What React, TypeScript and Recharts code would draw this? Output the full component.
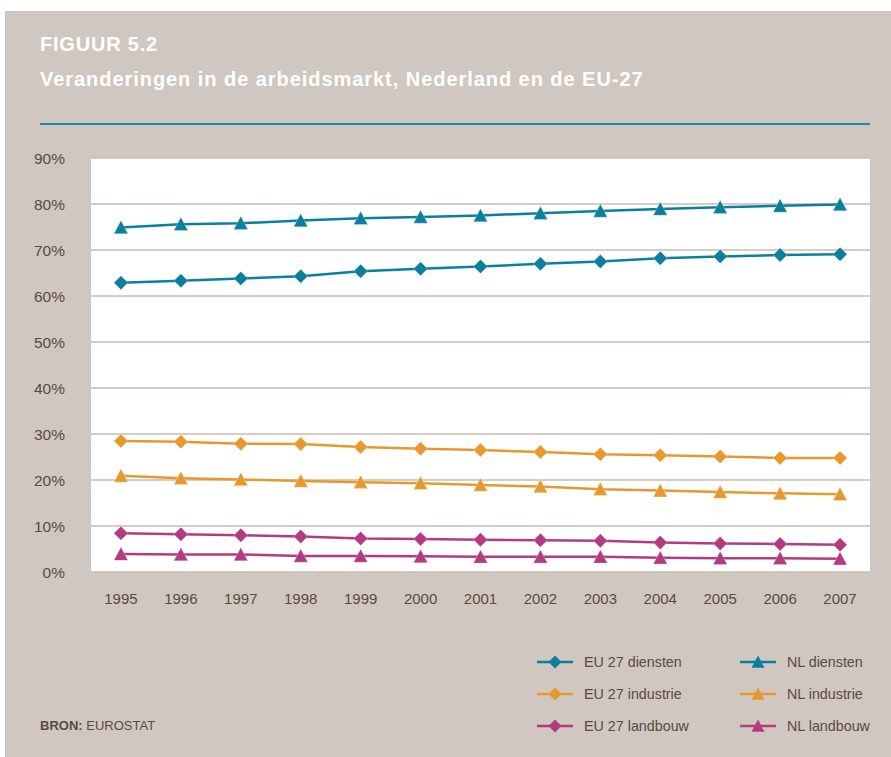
import React from 'react';
import { LineChart, Line, XAxis, YAxis, CartesianGrid } from 'recharts';

const years = [1995, 1996, 1997, 1998, 1999, 2000, 2001, 2002, 2003, 2004, 2005, 2006, 2007];
const euDiensten = [62.9, 63.3, 63.8, 64.3, 65.4, 65.9, 66.4, 67.0, 67.5, 68.2, 68.6, 68.9, 69.1];
const nlDiensten = [74.9, 75.6, 75.8, 76.4, 76.9, 77.2, 77.5, 78.0, 78.5, 78.9, 79.3, 79.6, 79.9];
const euIndustrie = [28.5, 28.3, 27.9, 27.8, 27.2, 26.8, 26.5, 26.1, 25.6, 25.4, 25.1, 24.8, 24.8];
const nlIndustrie = [20.9, 20.4, 20.1, 19.8, 19.5, 19.3, 18.9, 18.6, 18.0, 17.7, 17.4, 17.1, 16.9];
const euLandbouw = [8.4, 8.2, 8.0, 7.7, 7.3, 7.2, 7.0, 6.9, 6.8, 6.4, 6.2, 6.1, 5.9];
const nlLandbouw = [3.9, 3.8, 3.8, 3.5, 3.5, 3.4, 3.3, 3.3, 3.3, 3.1, 3.0, 3.0, 2.9];
const yTicks = [0, 10, 20, 30, 40, 50, 60, 70, 80, 90];

const TEAL = '#0B7F9E';
const ORANGE = '#E6992F';
const MAGENTA = '#B23B82';
const BG = '#CFC7C0';
const TEXT = '#5C4B3B';
const FONT = "'Liberation Sans', Arial, sans-serif";

const series = [
  { key: 'euDiensten', name: 'EU 27 diensten', color: TEAL, shape: 'diamond', values: euDiensten },
  { key: 'nlDiensten', name: 'NL diensten', color: TEAL, shape: 'triangle', values: nlDiensten },
  { key: 'euIndustrie', name: 'EU 27 industrie', color: ORANGE, shape: 'diamond', values: euIndustrie },
  { key: 'nlIndustrie', name: 'NL industrie', color: ORANGE, shape: 'triangle', values: nlIndustrie },
  { key: 'euLandbouw', name: 'EU 27 landbouw', color: MAGENTA, shape: 'diamond', values: euLandbouw },
  { key: 'nlLandbouw', name: 'NL landbouw', color: MAGENTA, shape: 'triangle', values: nlLandbouw },
];

const data = years.map((year, i) => {
  const row: any = { year };
  series.forEach((s) => {
    row[s.key] = s.values[i];
  });
  return row;
});

const markerPoints = (shape: string, cx: number, cy: number, r: number) => {
  if (shape === 'diamond') {
    return `${cx},${cy - r} ${cx + r},${cy} ${cx},${cy + r} ${cx - r},${cy}`;
  }
  return `${cx},${cy - r} ${cx + r},${cy + r * 0.9} ${cx - r},${cy + r * 0.9}`;
};

const makeDot = (shape: string, color: string) => (props: any) => {
  const { cx, cy, index } = props;
  if (cx == null || cy == null) return <g key={index} />;
  return (
    <polygon
      key={index}
      points={markerPoints(shape, cx, cy, 7)}
      fill={color}
      stroke="#fff"
      strokeOpacity={0.5}
      strokeWidth={0.5}
    />
  );
};

const LegendItem = ({ name, color, shape }: any) => (
  <div style={{ display: 'flex', alignItems: 'center', height: 20 }}>
    <svg width={36} height={16} style={{ marginRight: 11 }}>
      <line x1={0} y1={8} x2={36} y2={8} stroke={color} strokeWidth={2.5} />
      <polygon points={markerPoints(shape, 18, 8, 6.5)} fill={color} />
    </svg>
    <span style={{ fontSize: 14.3, color: TEXT }}>{name}</span>
  </div>
);

const App: React.FC = () => {
  return (
    <div style={{ position: 'absolute', left: 0, top: 0, width: 891, height: 757, background: '#fff', fontFamily: FONT }}>
      <div style={{ position: 'absolute', left: 5, top: 11, width: 886, height: 746, background: BG }} />

      <div style={{ position: 'absolute', left: 40, top: 33, color: '#fff', fontWeight: 'bold', fontSize: 20, letterSpacing: 0.8 }}>
        FIGUUR 5.2
      </div>
      <div style={{ position: 'absolute', left: 40, top: 68, color: '#fff', fontWeight: 'bold', fontSize: 20, letterSpacing: 0.95 }}>
        Veranderingen in de arbeidsmarkt, Nederland en de EU-27
      </div>
      <div style={{ position: 'absolute', left: 40, top: 123, width: 830, height: 1.5, background: '#1C8AA8' }} />

      <div style={{ position: 'absolute', left: 0, top: 0 }}>
        <LineChart width={891} height={620} data={data} margin={{ top: 158, right: 21, left: 0, bottom: 0 }}>
          <CartesianGrid vertical={false} stroke="#C9BDB2" strokeWidth={1.5} fill="#fff" />
          <XAxis
            dataKey="year"
            type="number"
            domain={[1994.5, 2007.5]}
            ticks={years}
            axisLine={false}
            tickLine={false}
            tickSize={0}
            tickMargin={21}
            height={48}
            tick={{ fill: TEXT, fontSize: 15, fontFamily: FONT }}
          />
          <YAxis
            domain={[0, 90]}
            ticks={yTicks}
            width={91}
            axisLine={false}
            tickLine={false}
            tickSize={0}
            tickMargin={26}
            tickFormatter={(v: number) => `${v}%`}
            tick={{ fill: TEXT, fontSize: 15.5, fontFamily: FONT }}
          />
          {series.map((s) => (
            <Line
              key={s.key}
              dataKey={s.key}
              name={s.name}
              stroke={s.color}
              strokeWidth={2.5}
              dot={makeDot(s.shape, s.color)}
              activeDot={false}
              isAnimationActive={false}
            />
          ))}
        </LineChart>
      </div>

      <div style={{ position: 'absolute', left: 537, top: 652, display: 'grid', gridTemplateColumns: '203px 150px', rowGap: 12 }}>
        {series.map((s) => (
          <LegendItem key={s.key} name={s.name} color={s.color} shape={s.shape} />
        ))}
      </div>

      <div style={{ position: 'absolute', left: 40, top: 718, fontSize: 13, color: TEXT }}>
        <b>BRON:</b> EUROSTAT
      </div>
    </div>
  );
};

export default App;
